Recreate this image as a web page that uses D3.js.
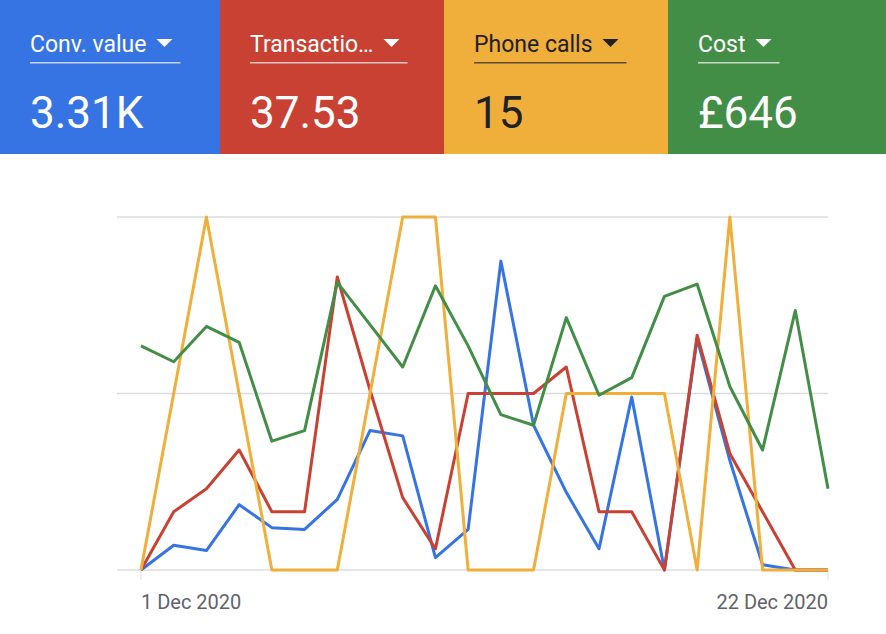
<!DOCTYPE html><html><head><meta charset="utf-8"><script src="https://cdn.jsdelivr.net/npm/d3@7"></script>
<style>body{margin:0;background:#fff;font-family:Roboto,sans-serif}</style></head><body><svg id="c" width="886" height="634"></svg>
<script>
const metrics=["Conv. value","Transactio…","Phone calls","Cost"];
const totals=["3.31K","37.53","15","£646"];
const colors=["#3574e2","#c94133","#f0ae3b","#438e47"];
const textColors=["#fff","#fff","#202124","#fff"];
const days=d3.range(1,23);
const convValue=[0,0.14,0.11,0.37,0.24,0.23,0.40,0.79,0.76,0.07,0.23,1.75,0.82,0.44,0.12,0.98,0,1.31,0.62,0.03,0,0];
const transactions=[0,0.33,0.46,0.68,0.33,0.33,1.66,1.02,0.41,0.12,1.0,1.0,1.0,1.15,0.33,0.33,0,1.33,0.66,0.33,0,0];
const phoneCalls=[0,1,2,1,0,0,0,1,2,2,0,0,0,1,1,1,1,0,2,0,0,0];
const cost=[1.27,1.18,1.38,1.29,0.73,0.79,1.63,1.39,1.15,1.61,1.27,0.88,0.82,1.43,0.99,1.09,1.55,1.62,1.04,0.68,1.47,0.46];
const tickLabels=["1 Dec 2020","22 Dec 2020"];
const svg=d3.select("#c");
const tx=[0,220,444,668,886];
metrics.forEach((m,i)=>{
 const g=svg.append("g").attr("transform",`translate(${tx[i]},0)`);
 g.append("rect").attr("width",tx[i+1]-tx[i]).attr("height",154).attr("fill",colors[i]);
 const t=g.append("text").attr("x",30).attr("y",52).attr("font-size",23).attr("fill",textColors[i]).text(m);
 const w=t.node().getComputedTextLength();
 g.append("path").attr("d",`M${w+40},39 l16,0 l-8,8z`).attr("fill",textColors[i]);
 g.append("rect").attr("x",30).attr("y",62).attr("width",w+34).attr("height",1.5).attr("fill",textColors[i]).attr("opacity",0.7);
 g.append("text").attr("x",30).attr("y",128).attr("font-size",44).attr("fill",textColors[i]).text(totals[i]);
});
const x=d3.scaleLinear().domain([1,22]).range([141,828]);
const y=d3.scaleLinear().domain([0,2]).range([570,217]);
[0,1,2].forEach(v=>svg.append("line").attr("x1",117).attr("x2",828).attr("y1",y(v)).attr("y2",y(v)).attr("stroke","#dadce0").attr("stroke-width",1.5));
[1,22].forEach(d=>svg.append("line").attr("x1",x(d)).attr("x2",x(d)).attr("y1",570).attr("y2",580).attr("stroke","#dadce0"));
svg.append("text").attr("x",x(1)).attr("y",609).attr("font-size",20).attr("fill","#5f6368").text(tickLabels[0]);
svg.append("text").attr("x",x(22)).attr("y",609).attr("font-size",20).attr("fill","#5f6368").attr("text-anchor","end").text(tickLabels[1]);
const line=d3.line().x((d,i)=>x(days[i])).y(d=>y(d));
[convValue,transactions,phoneCalls,cost].forEach((s,i)=>svg.append("path").datum(s).attr("d",line).attr("fill","none").attr("stroke",colors[i]).attr("stroke-width",3).attr("stroke-linejoin","round"));
</script></body></html>
